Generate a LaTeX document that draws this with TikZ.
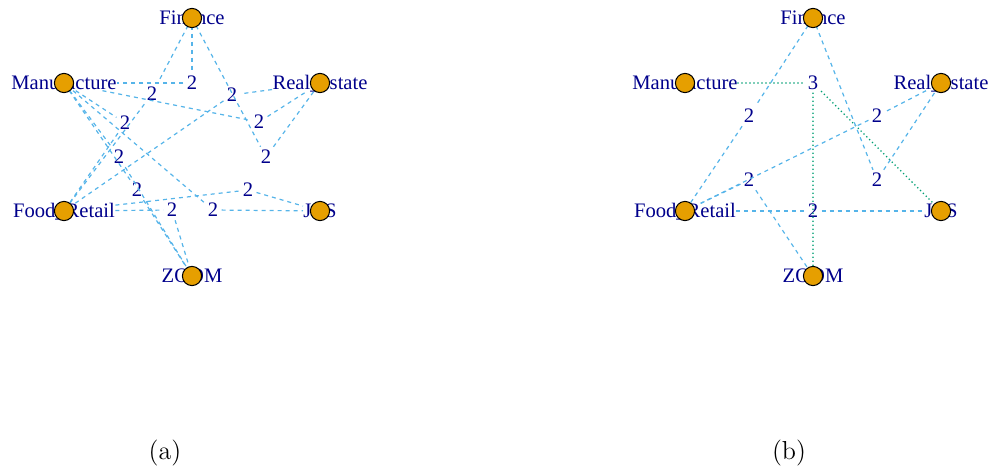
\documentclass[tikz,border=0pt]{standalone}
\usepackage{fontspec}
\newfontfamily\rfont{Liberation Serif}
\definecolor{vfill}{HTML}{E69F00}
\definecolor{eblue}{HTML}{56B4E9}
\definecolor{egreen}{HTML}{009E73}
\definecolor{lblue}{HTML}{00008B}
\begin{document}
\begin{tikzpicture}[x=0.5pt,y=-0.5pt]
      \useasboundingbox (0,0) rectangle (990,467);
      \tikzstyle{vname} = [font=\rfont\fontsize{10.3}{12}\selectfont, text=lblue, inner sep=0pt, text height=0.68em, text depth=0.05em]
      \tikzstyle{elab} = [font=\rfont\fontsize{10.3}{12}\selectfont, text=lblue, inner sep=1.5pt]
      \tikzstyle{vdot} = [circle, draw=black, fill=vfill, line width=0.5pt, inner sep=0pt, minimum size=9.6pt]
      \tikzstyle{edash} = [draw=eblue, line width=0.6pt, dash pattern=on 2pt off 2pt]
      \tikzstyle{edot} = [draw=egreen, line width=0.9pt, line cap=round, dash pattern=on 0pt off 2pt]
      \tikzstyle{subcap} = [font=\fontsize{13}{15}\selectfont, anchor=base]

      % (a)
      \begin{scope}
        \node[vname] (fin1) at (192,18) {Finance};
        \node[vname] (man1) at (64,83) {Manufacture};
        \node[vname] (rea1) at (320,83) {Real\_estate};
        \node[vname] (foo1) at (64,211) {Food\_Retail};
        \node[vname] (jcs1) at (320,211) {JCS};
        \node[vname] (zoo1) at (192,276) {ZOOM};

        \node[elab] (e1) at (192,83) {2};
        \node[elab] (e2) at (259,122) {2};
        \node[elab] (e3) at (232,95) {2};
        \node[elab] (e4) at (266,157) {2};
        \node[elab] (e5) at (248,190) {2};
        \node[elab] (e6) at (213,210) {2};
        \node[elab] (e7) at (172,210) {2};
        \node[elab] (e8) at (119,157) {2};
        \node[elab] (e9) at (137,190) {2};
        \node[elab] (e10) at (152,94) {2};
        \node[elab] (e11) at (125,123) {2};

        \draw[edash] (fin1) -- (e1) -- (man1);
        \draw[edash] (man1) -- (e2) -- (rea1);
        \draw[edash] (rea1) -- (e3) -- (foo1);
        \draw[edash] (fin1) -- (e4) -- (rea1);
        \draw[edash] (foo1) -- (e5) -- (jcs1);
        \draw[edash] (man1) -- (e6) -- (jcs1);
        \draw[edash] (foo1) -- (e7) -- (zoo1);
        \draw[edash] (man1) -- (e8) -- (zoo1);
        \draw[edash] (man1) -- (e9) -- (zoo1);
        \draw[edash] (fin1) -- (e10) -- (foo1);
        \draw[edash] (man1) -- (e11) -- (foo1);

        \node[vdot] (fin1c) at (fin1.center) {};
        \node[vdot] (man1c) at (man1.center) {};
        \node[vdot] (rea1c) at (rea1.center) {};
        \node[vdot] (foo1c) at (foo1.center) {};
        \node[vdot] (jcs1c) at (jcs1.center) {};
        \node[vdot] (zoo1c) at (zoo1.center) {};

        \node[subcap] (capa) at (165,459) {(a)};
      \end{scope}

      % (b)
      \begin{scope}
        \node[vname] (fin2) at (813,18) {Finance};
        \node[vname] (man2) at (685,83) {Manufacture};
        \node[vname] (rea2) at (941,83) {Real\_estate};
        \node[vname] (foo2) at (685,211) {Food\_Retail};
        \node[vname] (jcs2) at (941,211) {JCS};
        \node[vname] (zoo2) at (813,276) {ZOOM};

        \node[elab] (f1) at (813,83) {3};
        \node[elab] (f2) at (749,116) {2};
        \node[elab] (f3) at (877,116) {2};
        \node[elab] (f4) at (749,180) {2};
        \node[elab] (f5) at (877,180) {2};
        \node[elab] (f6) at (813,211) {2};

        \draw[edot] (man2) -- (f1) -- (jcs2);
        \draw[edot] (f1) -- (zoo2);
        \draw[edash] (fin2) -- (f2) -- (foo2);
        \draw[edash] (rea2) -- (f3) -- (foo2);
        \draw[edash] (foo2) -- (f4) -- (zoo2);
        \draw[edash] (fin2) -- (f5) -- (rea2);
        \draw[edash] (foo2) -- (f6) -- (jcs2);

        \node[vdot] (fin2c) at (fin2.center) {};
        \node[vdot] (man2c) at (man2.center) {};
        \node[vdot] (rea2c) at (rea2.center) {};
        \node[vdot] (foo2c) at (foo2.center) {};
        \node[vdot] (jcs2c) at (jcs2.center) {};
        \node[vdot] (zoo2c) at (zoo2.center) {};

        \node[subcap] (capb) at (789,459) {(b)};
      \end{scope}
\end{tikzpicture}
\end{document}
